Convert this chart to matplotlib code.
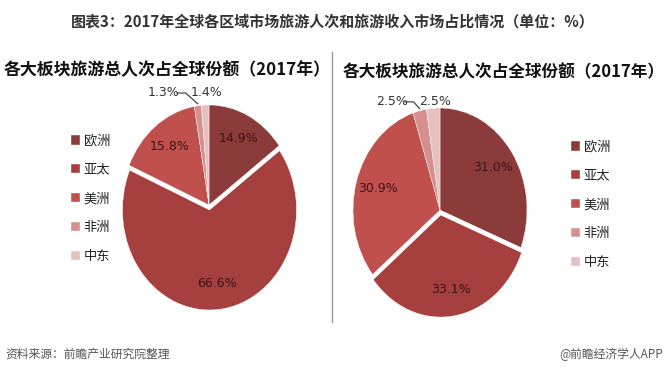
import numpy as np
import matplotlib
matplotlib.use("Agg")
import matplotlib.pyplot as plt
from matplotlib.lines import Line2D

plt.rcParams['font.family'] = ['Noto Sans CJK SC', 'DejaVu Sans']

regions = ["欧洲", "亚太", "美洲", "非洲", "中东"]
visitors_share = [14.9, 66.6, 15.8, 1.3, 1.4]
income_share = [31.0, 33.1, 30.9, 2.5, 2.5]
colors = ["#8c3b3b", "#a6403f", "#c0504d", "#d48f8e", "#e6bfbf"]

title = "图表3：2017年全球各区域市场旅游人次和旅游收入市场占比情况（单位：%）"
subtitle = "各大板块旅游总人次占全球份额（2017年）"
source = "资料来源：前瞻产业研究院整理"
brand = "@前瞻经济学人APP"

W, H = 669, 374
fig = plt.figure(figsize=(W / 100, H / 100), dpi=100)
fig.patch.set_facecolor("white")


def px_rect(cx, cy, rx, ry):
    # axes rect so that a unit pie fills an ellipse of radii rx, ry (pixels)
    w, h = 2.5 * rx, 2.5 * ry
    return [(cx - w / 2) / W, (H - cy - h / 2) / H, w / W, h / H]


def draw_pie(rect, values, out_y, leader_dx):
    ax = fig.add_axes(rect)
    explode = [0.05 if v == max(values) else 0 for v in values]
    wedges, _ = ax.pie(values, colors=colors, startangle=90, counterclock=False,
                       explode=explode, radius=1.0,
                       wedgeprops=dict(edgecolor="white", linewidth=0.3))
    ax.set_aspect("auto")
    ax.set_xlim(-1.25, 1.25)
    ax.set_ylim(-1.25, 1.25)
    n = len(values)
    for i, (w, v) in enumerate(zip(wedges, values)):
        mid = np.deg2rad((w.theta1 + w.theta2) / 2)
        cx, cy = w.center
        if v > 5:
            ax.text(cx + 0.74 * np.cos(mid), cy + 0.74 * np.sin(mid), f"{v:.1f}%",
                    ha="center", va="center", fontsize=9, color="#3b1414",
                    family=["DejaVu Sans"])
        else:
            ex, ey = np.cos(mid), np.sin(mid)
            tx = ex + (leader_dx if i == n - 2 else 0.02)
            ax.text(tx, out_y, f"{v:.1f}%", ha="center", va="center",
                    fontsize=9, color="#333333", family=["DejaVu Sans"])
            if i == n - 2:
                x0 = tx + 0.15
                ax.plot([x0, x0 + 0.1, ex], [out_y, out_y, ey + 0.02],
                        color="#333333", lw=0.8, clip_on=False)
    return wedges


wl = draw_pie(px_rect(209, 205, 87, 100), visitors_share, 1.12, -0.39)
wr = draw_pie(px_rect(440, 210, 87, 102), income_share, 1.06, -0.32)

fig.text(333 / W, 1 - 21 / H, title, ha="center", va="center", fontsize=10.8,
         fontweight="bold", color="#333333")
fig.text(4 / W, 1 - 70 / H, subtitle, ha="left", va="center", fontsize=12.2,
         fontweight="bold", color="#111111")
fig.text(343 / W, 1 - 72 / H, subtitle, ha="left", va="center", fontsize=12.0,
         fontweight="bold", color="#111111")

fig.add_artist(Line2D([332 / W, 332 / W], [1 - 52 / H, 1 - 322 / H],
                      color="#9a9a9a", lw=1))

for wedges, x, y in [(wl, 64, 128), (wr, 564, 134)]:
    leg = fig.legend(wedges, regions, loc="upper left",
                     bbox_to_anchor=(x / W, 1 - y / H), frameon=False,
                     fontsize=9.5, handlelength=0.7, handleheight=0.7,
                     handletextpad=0.3, labelspacing=1.2, borderpad=0,
                     labelcolor="#222222")

fig.text(5 / W, 1 - 354 / H, source, ha="left", va="center", fontsize=8.5,
         style="italic", color="#555555")
fig.text(663 / W, 1 - 354 / H, brand, ha="right", va="center", fontsize=8.5,
         color="#555555")

fig.savefig("out.png", dpi=100)
